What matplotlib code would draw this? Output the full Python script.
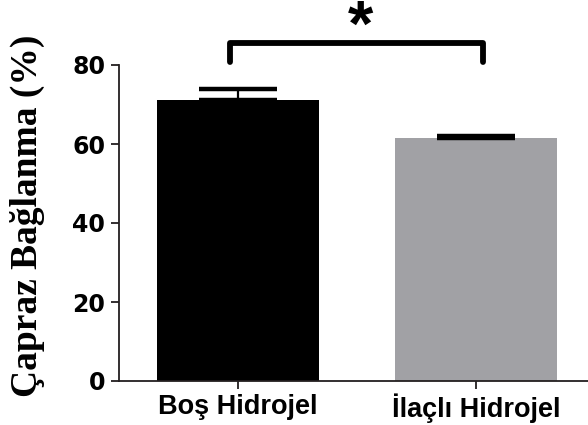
import matplotlib
matplotlib.use("Agg")
import matplotlib.pyplot as plt

categories = ["Boş Hidrojel", "İlaçlı Hidrojel"]
values = [71.1, 61.6]
errors = [2.7, 0.3]
bar_colors = ["#000000", "#a1a1a5"]
yticks = [0, 20, 40, 60, 80]
ylabel = "Çapraz Bağlanma (%)"
signif = "*"

W, H = 588, 425
fig = plt.figure(figsize=(W / 100, H / 100), dpi=100)
ax_left, ax_bottom, ax_top = 119, 381, 65
ax = fig.add_axes([ax_left / W, (H - ax_bottom) / H, 1 - ax_left / W, (ax_bottom - ax_top) / H])

axis_color = "#231f20"
x = list(range(len(categories)))
ax.bar(x, values, width=0.68, color=bar_colors, zorder=2)
ax.errorbar(x, values, yerr=[[0, 0], errors], fmt="none", ecolor="black",
            elinewidth=1.6, capsize=28, capthick=3.2, zorder=3)

ax.set_xlim(-0.5, 1.47)
ax.set_ylim(0, 80)
ax.set_yticks(yticks)
ax.set_xticks(x)
ax.set_xticklabels(categories, family="Liberation Sans", fontweight="bold", fontsize=19.5)
ax.set_yticklabels([str(t) for t in yticks], family="DejaVu Sans", fontweight="bold", fontsize=17)

for s in ["top", "right"]:
    ax.spines[s].set_visible(False)
for s in ["left", "bottom"]:
    ax.spines[s].set_color(axis_color)
    ax.spines[s].set_linewidth(1.3)
ax.tick_params(axis="y", length=6, width=1.3, color=axis_color, pad=4)
ax.tick_params(axis="x", length=6, width=1.3, color=axis_color, pad=3)

# significance bracket between the two groups
bx0, bx1, ylo, yhi = -0.035, 1.03, 80.8, 85.5
ax.plot([bx0, bx0, bx1, bx1], [ylo, yhi, yhi, ylo], color="black", lw=4.2,
        solid_joinstyle="round", solid_capstyle="round", clip_on=False, zorder=4)
ax.text(0.515, 84.8, signif, ha="center", va="baseline", fontsize=47,
        fontweight="bold", family="Liberation Sans", clip_on=False)

fig.text(27 / W, (H - 216) / H, ylabel, rotation=90, ha="center", va="center",
         family="Liberation Serif", fontweight="bold", fontsize=27)

fig.savefig("out.png", dpi=100)
